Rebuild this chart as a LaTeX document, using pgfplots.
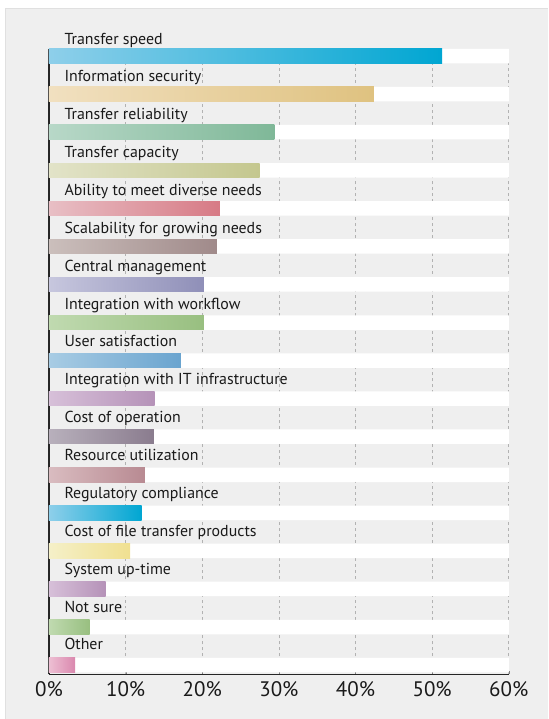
\documentclass[border=0pt]{standalone}
\usepackage{fontspec}
\setmainfont{PT Sans}
\usepackage{pgfplots}
\pgfplotsset{compat=1.18}
\definecolor{panel}{HTML}{EFEFEF}
\definecolor{txt}{HTML}{1A1A1A}
\begin{document}
\begin{tikzpicture}
\begin{axis}[
  set layers,
  scale only axis, width=460bp, height=625.4bp,
  xmin=0, xmax=60, ymin=-0.24, ymax=16.184,
  axis x line*=bottom, axis y line*=left,
  axis line style={black!85, line width=1.1bp},
  xtick={0,10,...,60},
  xticklabels={0\%,10\%,20\%,30\%,40\%,50\%,60\%},
  ytick=\empty,
  xmajorgrids, grid style={black!30, dashed, line width=0.6bp},
  tick align=inside, major tick length=3bp, tick style={black!50},
  xticklabel style={font=\fontsize{21bp}{25bp}\selectfont, text=txt, yshift=-4bp},
  bar shift=0pt, bar width=14.5bp,
  clip=false,
  every axis plot/.append style={xbar, draw=none},
]
\begin{pgfonlayer}{axis background}
\fill[white] ([shift={(-49bp,-44.5bp)}]rel axis cs:0,0) rectangle ([shift={(39bp,49.1bp)}]rel axis cs:1,1);
\fill[panel] ([shift={(-44bp,-44.5bp)}]rel axis cs:0,0) rectangle ([shift={(39bp,40.6bp)}]rel axis cs:1,1);
\draw[black!12,line width=0.6bp] ([shift={(-44bp,-44.5bp)}]rel axis cs:0,0) -- ([shift={(-44bp,40.6bp)}]rel axis cs:0,1) -- ([shift={(39bp,40.6bp)}]rel axis cs:1,1);
\end{pgfonlayer}
\addplot[fill=white] coordinates {(60,16) (60,15) (60,14) (60,13) (60,12) (60,11) (60,10) (60,9) (60,8) (60,7) (60,6) (60,5) (60,4) (60,3) (60,2) (60,1) (60,0)};
\addplot[left color={rgb,255:red,142;green,207;blue,234}, right color={rgb,255:red,0;green,166;blue,210}] coordinates {(51.3,16)};
\addplot[left color={rgb,255:red,241;green,224;blue,192}, right color={rgb,255:red,223;green,194;blue,128}] coordinates {(42.4,15)};
\addplot[left color={rgb,255:red,184;green,216;blue,200}, right color={rgb,255:red,127;green,184;blue,152}] coordinates {(29.4,14)};
\addplot[left color={rgb,255:red,226;green,227;blue,200}, right color={rgb,255:red,196;green,199;blue,142}] coordinates {(27.5,13)};
\addplot[left color={rgb,255:red,232;green,191;blue,197}, right color={rgb,255:red,215;green,122;blue,133}] coordinates {(22.3,12)};
\addplot[left color={rgb,255:red,203;green,191;blue,188}, right color={rgb,255:red,160;green,138;blue,138}] coordinates {(21.9,11)};
\addplot[left color={rgb,255:red,199;green,199;blue,222}, right color={rgb,255:red,143;green,143;blue,184}] coordinates {(20.2,10)};
\addplot[left color={rgb,255:red,192;green,218;blue,176}, right color={rgb,255:red,152;green,191;blue,128}] coordinates {(20.2,9)};
\addplot[left color={rgb,255:red,168;green,204;blue,228}, right color={rgb,255:red,106;green,164;blue,207}] coordinates {(17.2,8)};
\addplot[left color={rgb,255:red,215;green,192;blue,217}, right color={rgb,255:red,181;green,146;blue,184}] coordinates {(13.8,7)};
\addplot[left color={rgb,255:red,184;green,176;blue,188}, right color={rgb,255:red,138;green,124;blue,142}] coordinates {(13.7,6)};
\addplot[left color={rgb,255:red,217;green,188;blue,192}, right color={rgb,255:red,184;green,138;blue,146}] coordinates {(12.5,5)};
\addplot[left color={rgb,255:red,142;green,207;blue,234}, right color={rgb,255:red,0;green,166;blue,210}] coordinates {(12.1,4)};
\addplot[left color={rgb,255:red,245;green,240;blue,200}, right color={rgb,255:red,240;green,224;blue,144}] coordinates {(10.6,3)};
\addplot[left color={rgb,255:red,215;green,192;blue,217}, right color={rgb,255:red,181;green,146;blue,184}] coordinates {(7.4,2)};
\addplot[left color={rgb,255:red,192;green,218;blue,176}, right color={rgb,255:red,152;green,191;blue,128}] coordinates {(5.3,1)};
\addplot[left color={rgb,255:red,237;green,191;blue,211}, right color={rgb,255:red,218;green,136;blue,174}] coordinates {(3.4,0)};
\tikzset{lab/.style={anchor=base west, inner sep=0pt, text=txt, font=\fontsize{15.9bp}{19bp}\selectfont}}
\node[lab] at (axis cs:2,16.315) {Transfer speed};
\node[lab] at (axis cs:2,15.320) {Information security};
\node[lab] at (axis cs:2,14.326) {Transfer reliability};
\node[lab] at (axis cs:2,13.331) {Transfer capacity};
\node[lab] at (axis cs:2,12.336) {Ability to meet diverse needs};
\node[lab] at (axis cs:2,11.341) {Scalability for growing needs};
\node[lab] at (axis cs:2,10.347) {Central management};
\node[lab] at (axis cs:2,9.352) {Integration with workflow};
\node[lab] at (axis cs:2,8.357) {User satisfaction};
\node[lab] at (axis cs:2,7.362) {Integration with IT infrastructure};
\node[lab] at (axis cs:2,6.368) {Cost of operation};
\node[lab] at (axis cs:2,5.373) {Resource utilization};
\node[lab] at (axis cs:2,4.378) {Regulatory compliance};
\node[lab] at (axis cs:2,3.383) {Cost of file transfer products};
\node[lab] at (axis cs:2,2.389) {System up-time};
\node[lab] at (axis cs:2,1.394) {Not sure};
\node[lab] at (axis cs:2,0.399) {Other};
\end{axis}
\end{tikzpicture}
\end{document}
